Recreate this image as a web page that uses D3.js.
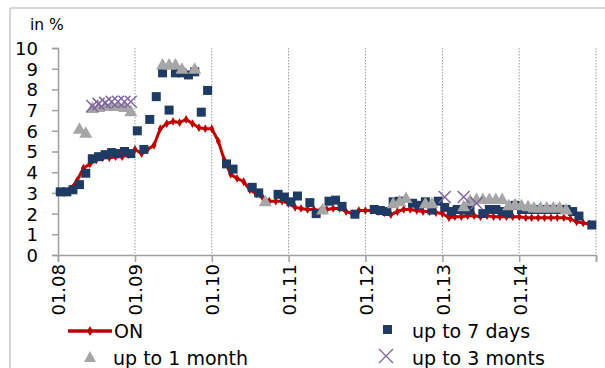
<!DOCTYPE html>
<html>
<head>
<meta charset="utf-8">
<script src="https://cdn.jsdelivr.net/npm/d3@7"></script>
<style>
html,body{margin:0;padding:0;background:#fff;}
svg{display:block;font-family:"DejaVu Sans",Verdana,sans-serif;}
</style>
</head>
<body>
<svg id="chart" width="605" height="368"></svg>
<script>
// ---- data (monthly, Jan 2008 – Dec 2014) ----
const tickLabels = ["01.08","01.09","01.10","01.11","01.12","01.13","01.14",""];
const yTicks = [0,1,2,3,4,5,6,7,8,9,10];
const seriesNames = ["ON","up to 7 days","up to 1 month","up to 3 monts"];

const onRate = [
  3.05,3.05,3.2,3.6,4.2,4.4,4.6,4.7,4.7,4.75,4.75,4.85,
  5.1,4.9,5.1,5.3,6.1,6.35,6.45,6.4,6.55,6.35,6.15,6.1,
  6.1,5.5,4.6,3.9,3.7,3.55,3.15,2.95,2.75,2.6,2.6,2.6,
  2.5,2.3,2.25,2.2,2.2,2.15,2.2,2.25,2.25,2.1,2.0,2.15,
  2.15,2.15,2.1,2.05,1.95,2.1,2.2,2.2,2.15,2.1,2.1,2.05,
  2.0,1.8,1.85,1.85,1.9,1.9,1.85,1.9,1.85,1.85,1.85,1.85,
  1.85,1.8,1.8,1.8,1.8,1.8,1.8,1.8,1.75,1.6,1.55,1.5
];
const upTo7Days = [
  3.05,3.05,3.15,3.4,3.95,4.65,4.75,4.85,4.95,4.9,5.0,4.9,
  6.0,5.1,6.55,7.65,8.8,7.0,8.8,8.8,8.7,8.85,6.9,7.95,
  null,null,4.4,4.15,null,null,3.27,3.0,null,null,2.93,2.8,
  2.57,2.85,null,2.53,2.0,null,2.6,2.65,2.35,null,1.97,null,
  null,2.2,2.15,2.1,2.57,2.6,null,2.5,2.4,2.57,2.17,2.6,
  2.3,2.1,2.2,2.17,2.17,null,2.0,2.2,2.2,2.1,2.05,2.4,
  2.2,2.2,2.2,2.2,2.2,2.2,2.2,2.2,2.1,1.88,null,1.45
];
const upTo1Month = [
  null,null,null,6.1,5.9,7.1,7.15,7.2,7.2,7.2,7.15,6.95,
  null,null,null,null,9.2,9.2,9.2,9.0,null,9.0,null,null,
  null,null,null,null,null,null,null,null,2.6,null,null,null,
  null,null,null,null,null,2.2,null,null,null,null,null,null,
  null,null,null,null,2.5,2.6,2.75,null,null,2.5,2.5,null,
  null,null,null,2.35,2.65,2.7,2.7,2.7,2.7,2.7,2.4,2.45,
  2.4,2.35,2.3,2.3,2.3,2.3,2.3,2.2,null,null,null,null
];
const upTo3Months = [
  null,null,null,null,null,7.2,7.3,7.35,7.4,7.4,7.4,7.4,
  null,null,null,null,null,null,null,null,null,null,null,null,
  null,null,null,null,null,null,null,null,null,null,null,null,
  null,null,null,null,null,null,null,null,null,null,null,null,
  null,null,null,null,null,null,null,null,null,null,null,null,
  2.8,null,null,2.8,null,2.5,null,null,null,null,null,null,
  null,null,null,null,null,null,null,null,null,null,null,null
];

const months = d3.timeMonths(new Date(2008,0,1), new Date(2015,0,1));
const years = d3.timeYears(new Date(2008,0,1), new Date(2015,0,2));

// ---- layout ----
const svg = d3.select("#chart");
const plot = {left:58, right:596, top:48, bottom:255};
const x = d3.scaleTime().domain([new Date(2008,0,1), new Date(2015,0,1)]).range([plot.left, plot.right]);
const y = d3.scaleLinear().domain([0,10]).range([plot.bottom, plot.top]);
const mx = d => x(d3.timeDay.offset(d, 11));

const C = {on:"#c00000", d7:"#1f3b63", m1:"#a6a6a6", m3:"#8064a2", axis:"#a0a0a0", frame:"#c8c8c8"};
const FONT = "DejaVu Sans, Verdana, sans-serif";

// outer frame (partially visible)
svg.append("line").attr("x1",10).attr("x2",605).attr("y1",8).attr("y2",8).attr("stroke",C.frame).attr("stroke-width",1.5);
svg.append("line").attr("x1",10).attr("x2",10).attr("y1",8).attr("y2",368).attr("stroke",C.frame).attr("stroke-width",1.5);

// gridlines
svg.append("g").selectAll("line").data(years.slice(1)).join("line")
  .attr("x1",d=>x(d)).attr("x2",d=>x(d)).attr("y1",plot.top).attr("y2",plot.bottom)
  .attr("stroke","#9a9a9a").attr("stroke-width",1).attr("stroke-dasharray","1.5,1.5");

// y axis
const yAxis = svg.append("g").attr("transform",`translate(${plot.left},0)`)
  .call(d3.axisLeft(y).tickValues(yTicks).tickSize(6).tickPadding(14).tickFormat(d3.format("d")));
yAxis.select(".domain").attr("stroke",C.axis).attr("stroke-width",1.5);
yAxis.selectAll(".tick line").attr("stroke",C.axis).attr("stroke-width",1.5);
yAxis.selectAll(".tick text").attr("font-size",18).attr("fill","#000").attr("font-family",FONT).attr("dy","0.36em");

svg.append("text").attr("x",30).attr("y",30).attr("font-size",15.5).attr("font-family",FONT).text("in %");

// x axis
const xAxis = svg.append("g").attr("transform",`translate(0,${plot.bottom})`)
  .call(d3.axisBottom(x).tickValues(years).tickSize(7).tickFormat((d,i)=>tickLabels[i]));
xAxis.select(".domain").attr("stroke",C.axis).attr("stroke-width",1.5);
xAxis.selectAll(".tick line").attr("stroke",C.axis).attr("stroke-width",1.5);
xAxis.selectAll(".tick text").attr("font-size",18).attr("fill","#000")
  .attr("font-family",FONT)
  .attr("transform","rotate(-90)").attr("text-anchor","end")
  .attr("x",-9).attr("y",0).attr("dy","0.38em").attr("dx",0);

// ON line
const onData = months.map((d,i)=>({d, v:onRate[i]}));
svg.append("path").datum(onData)
  .attr("fill","none").attr("stroke",C.on).attr("stroke-width",3).attr("stroke-linejoin","round")
  .attr("d", d3.line().x(p=>x(p.d)).y(p=>y(p.v)));
svg.append("g").selectAll("path").data(onData).join("path")
  .attr("transform",p=>`translate(${x(p.d)},${y(p.v)})`)
  .attr("d", d3.symbol(d3.symbolDiamond, 22)).attr("fill",C.on);

// up to 7 days (squares)
const d7 = months.map((d,i)=>({d, v:upTo7Days[i]})).filter(p=>p.v!=null);
svg.append("g").selectAll("rect").data(d7).join("rect")
  .attr("x",p=>mx(p.d)-4.5).attr("y",p=>y(p.v)-4.5).attr("width",9).attr("height",9).attr("fill",C.d7);

// up to 1 month (triangles)
const m1 = months.map((d,i)=>({d, v:upTo1Month[i]})).filter(p=>p.v!=null);
svg.append("g").selectAll("path").data(m1).join("path")
  .attr("transform",p=>`translate(${mx(p.d)},${y(p.v)})`)
  .attr("d","M0,-6.5L6.5,5L-6.5,5Z").attr("fill",C.m1);

// up to 3 months (crosses)
const m3 = months.map((d,i)=>({d, v:upTo3Months[i]})).filter(p=>p.v!=null);
svg.append("g").selectAll("path").data(m3).join("path")
  .attr("transform",p=>`translate(${mx(p.d)},${y(p.v)})`)
  .attr("d","M-6,-6L6,6M-6,6L6,-6").attr("stroke",C.m3).attr("stroke-width",1.5).attr("fill","none");

// legend
const lg = svg.append("g").attr("font-size",19).attr("font-family",FONT).attr("fill","#000");
lg.append("line").attr("x1",68).attr("x2",112).attr("y1",331).attr("y2",331).attr("stroke",C.on).attr("stroke-width",3.5);
lg.append("path").attr("transform","translate(90,331)").attr("d",d3.symbol(d3.symbolDiamond,30)).attr("fill",C.on);
lg.append("text").attr("x",114).attr("y",338).text(seriesNames[0]);
lg.append("rect").attr("x",383).attr("y",325).attr("width",9).attr("height",9).attr("fill",C.d7);
lg.append("text").attr("x",412).attr("y",338).text(seriesNames[1]);
lg.append("path").attr("transform","translate(90,357)").attr("d","M0,-6L6,5L-6,5Z").attr("fill",C.m1);
lg.append("text").attr("x",113).attr("y",365).text(seriesNames[2]);
lg.append("path").attr("transform","translate(386,356)").attr("d","M-7,-7L7,7M-7,7L7,-7").attr("stroke",C.m3).attr("stroke-width",1.3);
lg.append("text").attr("x",412).attr("y",365).text(seriesNames[3]);
</script>
</body>
</html>
